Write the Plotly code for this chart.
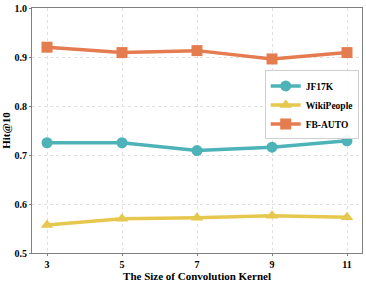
import plotly.graph_objects as go

kernel = [3, 5, 7, 9, 11]
jf17k = [0.725, 0.725, 0.709, 0.716, 0.729]
wikipeople = [0.557, 0.570, 0.572, 0.576, 0.573]
fbauto = [0.920, 0.909, 0.913, 0.896, 0.909]

series = [
    ("JF17K", jf17k, "#4DB3B8", "circle"),
    ("WikiPeople", wikipeople, "#E6C84E", "triangle-up"),
    ("FB-AUTO", fbauto, "#E47C50", "square"),
]

fig = go.Figure()
for name, vals, col, sym in series:
    fig.add_trace(go.Scatter(
        x=kernel, y=vals, name=name, mode="lines+markers",
        line=dict(color=col, width=3.5),
        marker=dict(symbol=sym, size=11, color=col),
    ))

font = dict(family="Liberation Serif", color="black", size=10)
fig.update_layout(
    width=366, height=283,
    margin=dict(l=32, r=4, t=8, b=30),
    paper_bgcolor="white", plot_bgcolor="white",
    font=font,
    showlegend=True,
    legend=dict(
        x=0.99, y=0.745, xanchor="right", yanchor="top",
        bgcolor="rgba(255,255,255,0.9)", bordercolor="#D0D0D0", borderwidth=1,
        font=dict(family="Liberation Serif", size=9.5, color="black", weight="bold"),
        itemwidth=30, tracegroupgap=0,
    ),
)
fig.update_xaxes(
    range=[2.6, 11.4], tickvals=kernel, ticktext=[f"<b>{k}</b>" for k in kernel],
    showline=True, linecolor="#7F7F7F", linewidth=1, mirror=True,
    showgrid=True, gridcolor="#E0E0E0", griddash="dot", gridwidth=1,
    ticks="outside", ticklen=2, tickcolor="#7F7F7F", tickfont=dict(size=10),
    title=dict(text="<b>The Size of Convolution Kernel</b>", standoff=0, font=dict(size=11)),
    zeroline=False, automargin=False,
)
yt = [0.5, 0.6, 0.7, 0.8, 0.9, 1.0]
fig.update_yaxes(
    range=[0.5, 1.0], tickvals=yt, ticktext=[f"<b>{v:.1f}</b>" for v in yt],
    showline=True, linecolor="#7F7F7F", linewidth=1, mirror=True,
    showgrid=True, gridcolor="#E0E0E0", griddash="dot", gridwidth=1,
    ticks="outside", ticklen=2, tickcolor="#7F7F7F", tickfont=dict(size=10),
    title=dict(text="<b>Hit@10</b>", standoff=2, font=dict(size=11)),
    zeroline=False, automargin=False,
)
fig.write_html("out.html", config={"displayModeBar": False},
               post_script="document.body.style.margin='0';document.body.style.overflow='hidden';")
